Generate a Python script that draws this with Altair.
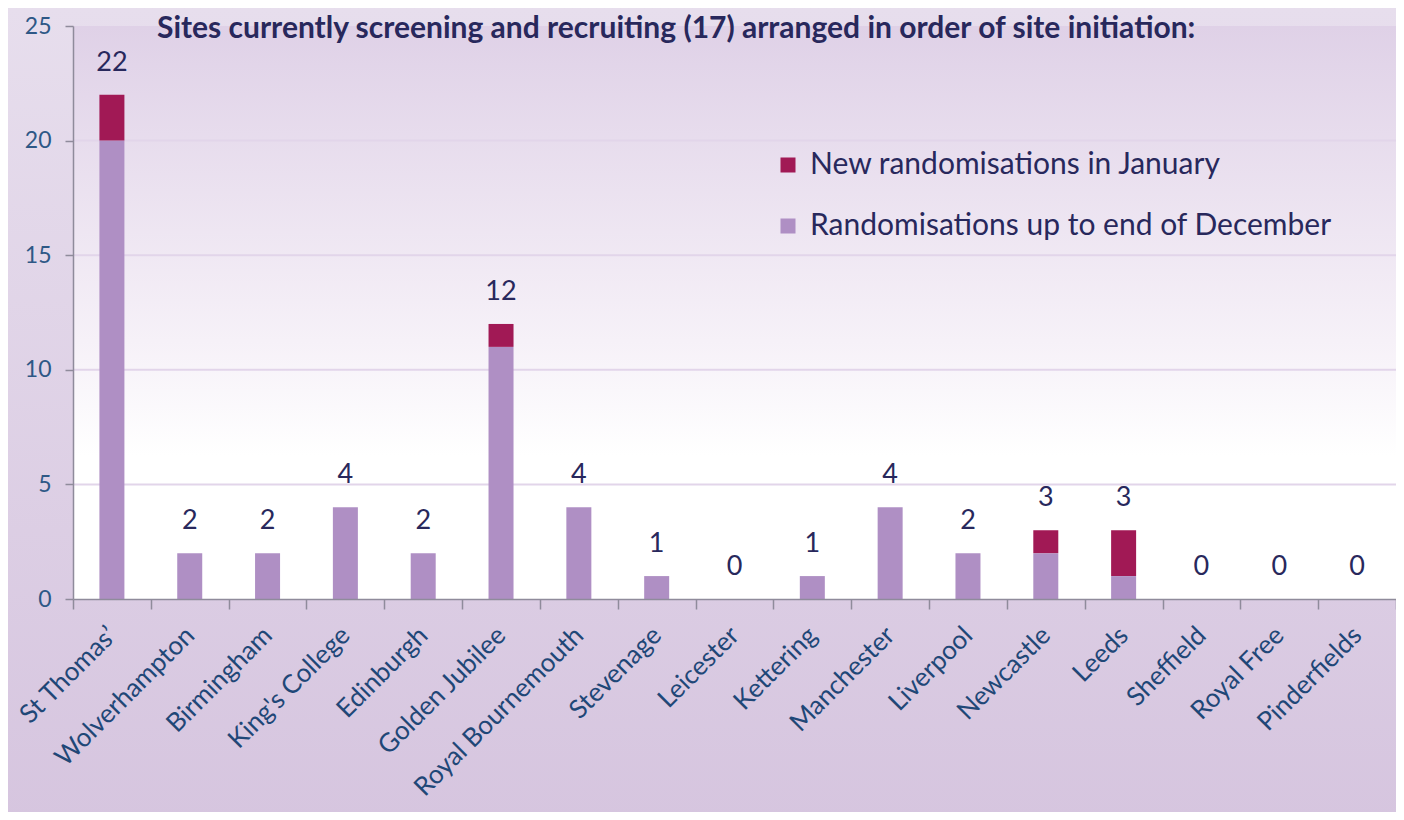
import altair as alt
import pandas as pd

sites = ["St Thomas’", "Wolverhampton", "Birmingham", "King's College", "Edinburgh",
         "Golden Jubilee", "Royal Bournemouth", "Stevenage", "Leicester", "Kettering",
         "Manchester", "Liverpool", "Newcastle", "Leeds", "Sheffield", "Royal Free", "Pinderfields"]
dec_vals = [20, 2, 2, 4, 2, 11, 4, 1, 0, 1, 4, 2, 2, 1, 0, 0, 0]
jan_vals = [2, 0, 0, 0, 0, 1, 0, 0, 0, 0, 0, 0, 1, 2, 0, 0, 0]
series_dec = "Randomisations up to end of December"
series_jan = "New randomisations in January"
y_ticks = [0, 5, 10, 15, 20, 25]
grid_values = [5, 10, 15, 20]
title_text = "Sites currently screening and recruiting (17) arranged in order of site initiation:"

W, H = 1323, 573
PAD = {"left": 65, "top": 18, "right": 0, "bottom": 213}
FONT = "Lato"
NAVY = "#28285c"
AXIS_BLUE = "#1f4777"
GRAY = "#8f8b9b"

rows = []
for s, d, j in zip(sites, dec_vals, jan_vals):
    rows.append({"site": s, "series": series_dec, "value": d, "order": 0})
    rows.append({"site": s, "series": series_jan, "value": j, "order": 1})
long_df = pd.DataFrame(rows)
tot_df = pd.DataFrame({"site": sites, "total": [d + j for d, j in zip(dec_vals, jan_vals)]})
grid_df = pd.DataFrame({"v": grid_values})
one = pd.DataFrame({"a": [0]})

x_enc = alt.X("site:N", sort=sites, scale=alt.Scale(paddingInner=0, paddingOuter=0),
              axis=alt.Axis(title=None, labelAngle=-45, labelAlign="right", labelBaseline="middle",
                            labelFontSize=26, labelColor=AXIS_BLUE, labelFont=FONT, labelPadding=22,
                            tickBand="extent", ticks=True, tickSize=10, tickColor=GRAY,
                            domainColor=GRAY, domainWidth=1.5, tickWidth=1.5, grid=False, zindex=1,
                            labelOverlap=False, labelLimit=1000))
y_scale = alt.Scale(domain=[0, 25], nice=False)
y_axis = alt.Axis(title=None, values=y_ticks, tickSize=8, tickColor=GRAY, domainColor=GRAY,
                  domainWidth=1.5, tickWidth=1.5, labelFontSize=23, labelColor="#2e5886",
                  labelFont=FONT, labelPadding=14, grid=False, zindex=1)

full_bg = alt.Chart(one).mark_rect(
    color=alt.LinearGradient(gradient="linear", x1=0, x2=0, y1=0, y2=1,
                             stops=[alt.GradientStop(color="#e7deed", offset=0),
                                    alt.GradientStop(color="#d6c5df", offset=1)])
).encode(x=alt.value(-PAD["left"]), x2=alt.value(W + 10),
         y=alt.value(-PAD["top"]), y2=alt.value(H + PAD["bottom"] + 10))

plot_bg = alt.Chart(one).mark_rect(
    color=alt.LinearGradient(gradient="linear", x1=0, x2=0, y1=0, y2=1,
                             stops=[alt.GradientStop(color="#dfd1e7", offset=0),
                                    alt.GradientStop(color="#f6f1f8", offset=0.55),
                                    alt.GradientStop(color="#ffffff", offset=0.75),
                                    alt.GradientStop(color="#ffffff", offset=1)])
).encode(x=alt.value(0), x2=alt.value(W), y=alt.value(0), y2=alt.value(H))

grid = alt.Chart(grid_df).mark_rule(color="#e2d5ea", strokeWidth=2).encode(
    y=alt.Y("v:Q", scale=y_scale, axis=y_axis), x=alt.value(0), x2=alt.value(W))

bars = alt.Chart(long_df).mark_bar(width=25).encode(
    x=x_enc,
    y=alt.Y("value:Q", stack="zero", scale=y_scale, axis=y_axis),
    color=alt.Color("series:N",
                    scale=alt.Scale(domain=[series_jan, series_dec], range=["#a11955", "#af8fc4"]),
                    legend=alt.Legend(title=None, orient="none", legendX=700, legendY=124,
                                      symbolType="square", symbolSize=225, symbolStrokeWidth=0,
                                      labelFontSize=30, labelFont=FONT, labelColor=NAVY,
                                      rowPadding=31, labelOffset=7, padding=0, labelLimit=800)),
    order=alt.Order("order:Q", sort="ascending"),
)

totals = alt.Chart(tot_df).mark_text(baseline="alphabetic", dy=-24, fontSize=27, font=FONT,
                                     color=NAVY).encode(
    x=alt.X("site:N", sort=sites), y=alt.Y("total:Q", scale=y_scale), text="total:Q")

title = alt.Chart(one).mark_text(align="left", baseline="alphabetic", fontSize=30,
                                 fontWeight="bold", font=FONT, color=NAVY).encode(
    x=alt.value(84), y=alt.value(12), text=alt.value(title_text))

chart = alt.layer(full_bg, plot_bg, grid, bars, totals, title).properties(
    width=W, height=H, padding=PAD,
    autosize=alt.AutoSizeParams(type="none"),
).configure(background="#ddd0e6").configure_view(stroke=None)

chart.save("out.html", embed_options={"renderer": "svg", "actions": False})
